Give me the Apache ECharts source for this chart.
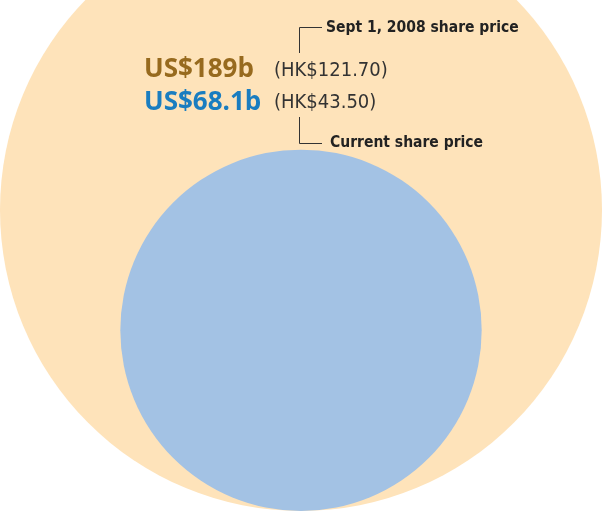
<!DOCTYPE html>
<html>
<head>
<meta charset="utf-8">
<script src="https://cdn.jsdelivr.net/npm/echarts@6/dist/echarts.min.js"></script>
<style>
html,body{margin:0;padding:0;background:#fff;}
#chart{width:602px;height:511px;}
</style>
</head>
<body>
<div id="chart"></div>
<script>
// Market value (US$ billions)
const names = ['Sept 1, 2008 share price', 'Current share price'];
const values = [189, 68.1];
const valueLabels = ['US$189b', 'US$68.1b'];
const priceLabels = ['(HK$121.70)', '(HK$43.50)'];
const colors = ['#FEE3BA', '#A3C2E4'];
const labelColors = ['#976A1E', '#1A7DC0'];

const W = 602, H = 511;
const maxR = 301;                 // pixel radius of the largest circle
const k = maxR / Math.sqrt(Math.max(...values));
const base = 0;                   // circles share a common bottom
const data = values.map((v, i) => {
  const r = k * Math.sqrt(v);
  return { value: [0, base + r], symbolSize: 2 * r, itemStyle: { color: colors[i], opacity: 1 }, name: names[i] };
});

const chart = echarts.init(document.getElementById('chart'), null, { renderer: 'canvas' });
const condensed = '"DejaVu Sans Condensed", "Liberation Sans Narrow", sans-serif';
const bigFont = '"Open Sans", "Noto Sans", sans-serif';

function txt(x, y, text, fill, font) {
  return { type: 'text', z: 100, x: x, y: y, style: { text: text, fill: fill, font: font, align: 'left', verticalAlign: 'middle' } };
}

chart.setOption({
  animation: false,
  backgroundColor: '#fff',
  grid: { left: 0, right: 0, top: 0, bottom: 0 },
  xAxis: { type: 'value', min: -W / 2, max: W / 2, show: false },
  yAxis: { type: 'value', min: 0, max: H, show: false },
  series: [{
    type: 'scatter',
    symbol: 'circle',
    clip: false,
    z: 1,
    itemStyle: { opacity: 1 },
    data: data,
    silent: true
  }],
  graphic: { elements: [
    txt(144, 70, valueLabels[0], labelColors[0], 'bold 26px ' + bigFont),
    txt(274, 71, priceLabels[0], '#333', '20px ' + condensed),
    txt(144, 103, valueLabels[1], labelColors[1], 'bold 26px ' + bigFont),
    txt(274, 103, priceLabels[1], '#333', '20px ' + condensed),
    { type: 'polyline', z: 100, shape: { points: [[299.5, 53], [299.5, 27.5], [322, 27.5]] }, style: { stroke: '#333', lineWidth: 1, fill: null } },
    { type: 'polyline', z: 100, shape: { points: [[299.5, 117], [299.5, 143.5], [322, 143.5]] }, style: { stroke: '#333', lineWidth: 1, fill: null } },
    txt(326, 28, names[0], '#222', 'bold 15.5px ' + condensed),
    txt(330, 143, names[1], '#222', 'bold 15.5px ' + condensed)
  ]}
});
</script>
</body>
</html>
